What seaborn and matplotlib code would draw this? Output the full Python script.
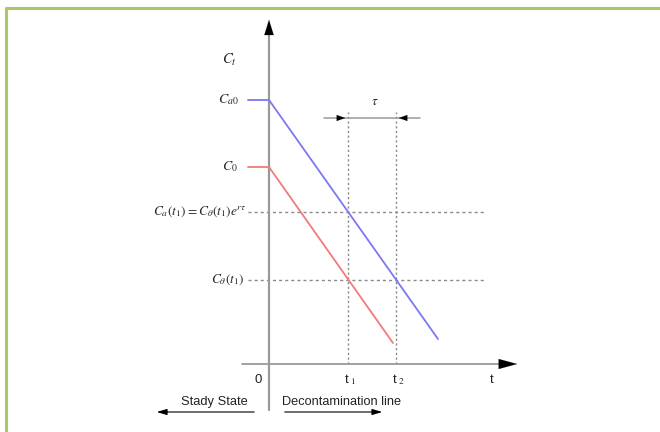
import numpy as np
import pandas as pd
import matplotlib
matplotlib.use("Agg")
import matplotlib.pyplot as plt
import seaborn as sns

sns.set_theme(style="white")
plt.rcParams['font.family'] = ['Liberation Sans', 'DejaVu Sans']
plt.rcParams['mathtext.fontset'] = 'stix'

# ---- data (t in arbitrary time units, C in arbitrary concentration units)
blue_t = [-2.1, 0.0, 16.9]
blue_c = [26.4, 26.4, 2.5]
red_t = [-2.1, 0.0, 12.4]
red_c = [19.7, 19.7, 2.1]
t_marks = [7.9, 12.7]          # t1, t2
c_levels = [15.2, 8.4]         # Ca(t1), Ctheta(t1)
level_labels = [r"$C_a(t_1)=C_\theta(t_1)e^{r\tau}$", r"$C_\theta(t_1)$"]
start_labels = [r"$C_{a0}$", r"$C_0$"]
tick_labels = ["t\u2009$_1$", "t\u2009$_2$"]

fig = plt.figure(figsize=(6.6, 4.32), dpi=100)
ax = fig.add_axes([0, 0, 1, 1])
# 10 px per unit; origin at pixel (269, 364)
ax.set_xlim(-26.9, 39.1)
ax.set_ylim(-6.8, 36.4)
ax.axis("off")

# green frame (top and left only visible)
green = "#a6ca5f"
fig.add_artist(plt.Line2D([6.5/660, 6.5/660], [0, 1 - 7.5/432], transform=fig.transFigure,
                          color=green, lw=2.2))
fig.add_artist(plt.Line2D([6.5/660, 1], [1 - 7.5/432, 1 - 7.5/432], transform=fig.transFigure,
                          color=green, lw=2.2))

gray = "#9a9a9a"
# axes
ax.plot([0, 0], [-4.6, 33], color=gray, lw=1.6, zorder=2)
ax.annotate("", xy=(0, 34.7), xytext=(0, 32.5),
            arrowprops=dict(arrowstyle="-|>,head_length=0.9,head_width=0.28", color="black", lw=0.1))
ax.plot([-2.7, 24.0], [0, 0], color=gray, lw=1.3, zorder=2)
ax.annotate("", xy=(25.1, 0), xytext=(23.5, 0),
            arrowprops=dict(arrowstyle="-|>,head_length=1.1,head_width=0.3", color="black", lw=0.1))

# dashed reference lines
for c in c_levels:
    ax.plot([-2.1, 21.6], [c, c], color="#8a8a8a", lw=1.0, ls=(0, (2.2, 2.2)), zorder=1)
for t in t_marks:
    ax.plot([t, t], [0, 25.2], color="#8a8a8a", lw=1.0, ls=(0, (1.6, 1.8)), zorder=1)

# concentration lines
df = pd.DataFrame({"t": blue_t + red_t, "C": blue_c + red_c,
                   "series": ["Ca"] * 3 + ["C"] * 3})
sns.lineplot(data=df, x="t", y="C", hue="series", palette={"Ca": "#7b78f2", "C": "#f17b7b"},
             sort=False, legend=False, lw=1.3, ax=ax, zorder=3)

# tau arrows
ax.plot([-2.4 + t_marks[0], 2.4 + t_marks[1]], [24.6, 24.6], color=gray, lw=1.1)
ax.annotate("", xy=(t_marks[0], 24.6), xytext=(t_marks[0] - 1.0, 24.6),
            arrowprops=dict(arrowstyle="-|>,head_length=0.5,head_width=0.18", color="black", lw=0.1))
ax.annotate("", xy=(t_marks[1], 24.6), xytext=(t_marks[1] + 1.0, 24.6),
            arrowprops=dict(arrowstyle="-|>,head_length=0.5,head_width=0.18", color="black", lw=0.1))
ax.text((t_marks[0] + t_marks[1]) / 2 + 0.3, 26.2, r"$\tau$", ha="center", va="center", fontsize=9.5)

# y labels
ax.text(-4.0, 30.4, r"$C_t$", ha="center", va="center", fontsize=10.5)
ax.text(-3.0, blue_c[0], start_labels[0], ha="right", va="center", fontsize=10)
ax.text(-3.1, red_c[0], start_labels[1], ha="right", va="center", fontsize=10)
ax.text(-2.3, c_levels[0], level_labels[0], ha="right", va="center", fontsize=9.6)
ax.text(-2.5, c_levels[1], level_labels[1], ha="right", va="center", fontsize=9.6)

# x labels
ax.text(-1.1, -1.6, "0", ha="center", va="center", fontsize=9.5, color="#222222")
for t, lab in zip(t_marks, tick_labels):
    ax.text(t + 0.2, -1.6, lab, ha="center", va="center", fontsize=9.5, color="#222222")
ax.text(22.3, -1.6, "t", ha="center", va="center", fontsize=9.5, color="#222222")

# regime annotations
ax.text(-5.5, -3.8, "Stady State", ha="center", va="center", fontsize=9.3, color="#222222")
ax.annotate("", xy=(-11.5, -4.8), xytext=(-1.2, -4.8),
            arrowprops=dict(arrowstyle="-|>,head_length=0.5,head_width=0.15", color="black", lw=0.8))
ax.text(1.3, -3.8, "Decontamination line", ha="left", va="center", fontsize=9.2, color="#222222")
ax.annotate("", xy=(11.6, -4.8), xytext=(1.3, -4.8),
            arrowprops=dict(arrowstyle="-|>,head_length=0.5,head_width=0.15", color="black", lw=0.8))

fig.savefig("out.png", dpi=100)
